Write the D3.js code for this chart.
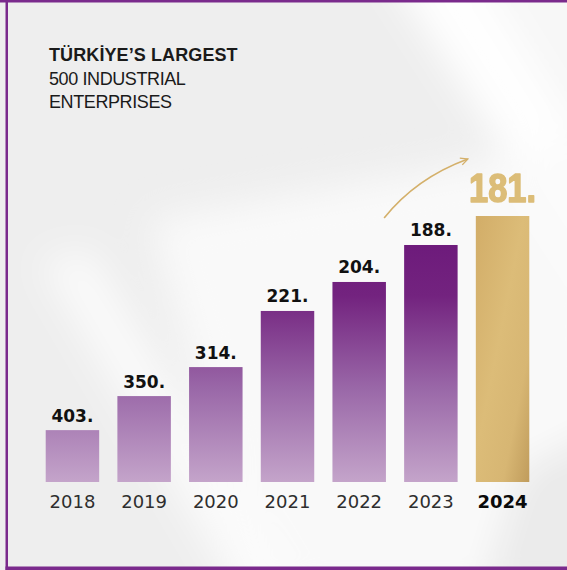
<!DOCTYPE html>
<html>
<head>
<meta charset="utf-8">
<script src="https://cdn.jsdelivr.net/npm/d3@7"></script>
<style>
  html, body { margin: 0; padding: 0; background: #ffffff; }
  svg { display: block; }
</style>
</head>
<body>
<script>
// ---- data ----
const years = ["2018", "2019", "2020", "2021", "2022", "2023", "2024"];
const ranks = [403, 350, 314, 221, 204, 188, 181];
// relative bar level (visual height, 2024 = 100)
const barLevels = [19.5, 32.3, 43.2, 64.3, 75.2, 89.1, 100];
const titleLines = ["TÜRKİYE’S LARGEST", "500 INDUSTRIAL", "ENTERPRISES"];
const highlightYear = "2024";

const W = 567, H = 570;
const svg = d3.select("body").append("svg").attr("width", W).attr("height", H);
const defs = svg.append("defs");

// ---- background ----
const blur = defs.append("filter").attr("id", "soft").attr("x", "-50%").attr("y", "-50%").attr("width", "200%").attr("height", "200%");
blur.append("feGaussianBlur").attr("stdDeviation", 18);
const blurSmall = defs.append("filter").attr("id", "softText");
blurSmall.append("feGaussianBlur").attr("stdDeviation", 0.5);

svg.append("rect").attr("width", W).attr("height", H).attr("fill", "#eeeeee");
const bg = svg.append("g").attr("filter", "url(#soft)");
bg.append("polygon").attr("points", "380,-40 470,-40 620,200 620,330").attr("fill", "#ffffff").attr("opacity", 0.95);
bg.append("polygon").attr("points", "470,-40 620,-40 620,200").attr("fill", "#f7f7f7");
bg.append("polygon").attr("points", "150,220 600,140 620,600 260,600").attr("fill", "#fbfbfb").attr("opacity", 0.9);
bg.append("polygon").attr("points", "40,260 90,250 300,600 240,600").attr("fill", "#ffffff").attr("opacity", 0.7);
bg.append("polygon").attr("points", "520,470 620,420 620,600 480,600").attr("fill", "#e6e6e6").attr("opacity", 0.7);

// ---- borders ----
const borderColor = "#7a2a8c";
svg.append("rect").attr("x", 0).attr("y", 0).attr("width", W).attr("height", 2.5).attr("fill", borderColor);
svg.append("rect").attr("x", 5.5).attr("y", 0).attr("width", 2.5).attr("height", H).attr("fill", borderColor);
svg.append("rect").attr("x", 5.5).attr("y", 566.5).attr("width", W).attr("height", 3.5).attr("fill", borderColor);

// ---- scales ----
const x = d3.scaleBand().domain(years).range([36.6, 538.4]).paddingInner(0.254).paddingOuter(0.127);
const y = d3.scaleLinear().domain([0, 100]).range([482, 216]);

// gradients
const purpleGrad = defs.append("linearGradient").attr("id", "purpleGrad")
  .attr("gradientUnits", "userSpaceOnUse").attr("x1", 0).attr("x2", 0).attr("y1", y(100)).attr("y2", y(0));
purpleGrad.append("stop").attr("offset", "0%").attr("stop-color", "#6a1679");
purpleGrad.append("stop").attr("offset", "30%").attr("stop-color", "#73237f");
purpleGrad.append("stop").attr("offset", "65%").attr("stop-color", "#9a68a8");
purpleGrad.append("stop").attr("offset", "100%").attr("stop-color", "#c4a4ca");

const goldGrad = defs.append("linearGradient").attr("id", "goldGrad")
  .attr("x1", "0%").attr("y1", "0%").attr("x2", "100%").attr("y2", "100%");
goldGrad.append("stop").attr("offset", "0%").attr("stop-color", "#d2ad68");
goldGrad.append("stop").attr("offset", "45%").attr("stop-color", "#dcbc78");
goldGrad.append("stop").attr("offset", "75%").attr("stop-color", "#d7b673");
goldGrad.append("stop").attr("offset", "100%").attr("stop-color", "#c09c5c");

// ---- bars ----
const data = years.map((yr, i) => ({ year: yr, rank: ranks[i], level: barLevels[i] }));
svg.append("g").selectAll("rect").data(data).join("rect")
  .attr("x", d => x(d.year))
  .attr("y", d => y(d.level))
  .attr("width", x.bandwidth())
  .attr("height", d => y(0) - y(d.level))
  .attr("fill", d => d.year === highlightYear ? "url(#goldGrad)" : "url(#purpleGrad)");

// ---- value labels ----
svg.append("g").selectAll("text").data(data.filter(d => d.year !== highlightYear)).join("text")
  .attr("x", d => x(d.year) + x.bandwidth() / 2)
  .attr("y", d => y(d.level) - 8.5)
  .attr("text-anchor", "middle")
  .attr("font-family", "'DejaVu Sans', sans-serif")
  .attr("font-weight", 700)
  .attr("font-size", 17)
  .attr("fill", "#111111")
  .text(d => d.rank + ".");

const hl = data.find(d => d.year === highlightYear);
svg.append("text")
  .attr("x", x(hl.year) + x.bandwidth() / 2)
  .attr("y", y(hl.level) - 14)
  .attr("text-anchor", "middle")
  .attr("font-family", "'Liberation Sans', Arial, sans-serif")
  .attr("font-weight", 700)
  .attr("font-size", 41)
  .attr("textLength", 67)
  .attr("lengthAdjust", "spacingAndGlyphs")
  .attr("fill", "#dcbd78")
  .attr("stroke", "#dcbd78")
  .attr("stroke-width", 1.6)
  .attr("stroke-linejoin", "round")
  .attr("filter", "url(#softText)")
  .text(hl.rank + ".");

// ---- year labels ----
svg.append("g").selectAll("text").data(data).join("text")
  .attr("x", d => x(d.year) + x.bandwidth() / 2)
  .attr("y", y(0) + 26)
  .attr("text-anchor", "middle")
  .attr("font-family", "'DejaVu Sans', sans-serif")
  .attr("font-weight", d => d.year === highlightYear ? 700 : 400)
  .attr("font-size", 18)
  .attr("fill", d => d.year === highlightYear ? "#0a0a0a" : "#2e2e2e")
  .text(d => d.year);

// ---- arrow ----
const prev = data[data.length - 2];
const ax0 = x(prev.year) - 20, ay0 = y(prev.level) - 27;
const ax1 = x(hl.year) - 8, ay1 = y(hl.level) - 57;
defs.append("marker").attr("id", "arrowHead")
  .attr("viewBox", "0 0 10 10").attr("refX", 9).attr("refY", 5)
  .attr("markerWidth", 9).attr("markerHeight", 9).attr("markerUnits", "userSpaceOnUse")
  .attr("orient", "auto")
  .append("path").attr("d", "M1,1 L9,5 L1,9").attr("fill", "none")
  .attr("stroke", "#d4b06a").attr("stroke-width", 1.5);
const p = d3.path();
p.moveTo(ax0, ay0);
p.quadraticCurveTo(ax0 + 32, ay0 - 40, ax1, ay1);
svg.append("path").attr("d", p.toString())
  .attr("fill", "none").attr("stroke", "#d4b06a").attr("stroke-width", 1.6)
  .attr("marker-end", "url(#arrowHead)");

// ---- title ----
svg.append("g").selectAll("text").data(titleLines).join("text")
  .attr("x", 49)
  .attr("y", (d, i) => 61 + i * 23.5)
  .attr("font-family", "'Liberation Sans', Arial, sans-serif")
  .attr("font-weight", (d, i) => i === 0 ? 700 : 400)
  .attr("font-size", 18)
  .attr("letter-spacing", (d, i) => i === 0 ? 0.1 : -0.4)
  .attr("fill", "#1a1a1a")
  .text(d => d);
</script>
</body>
</html>
